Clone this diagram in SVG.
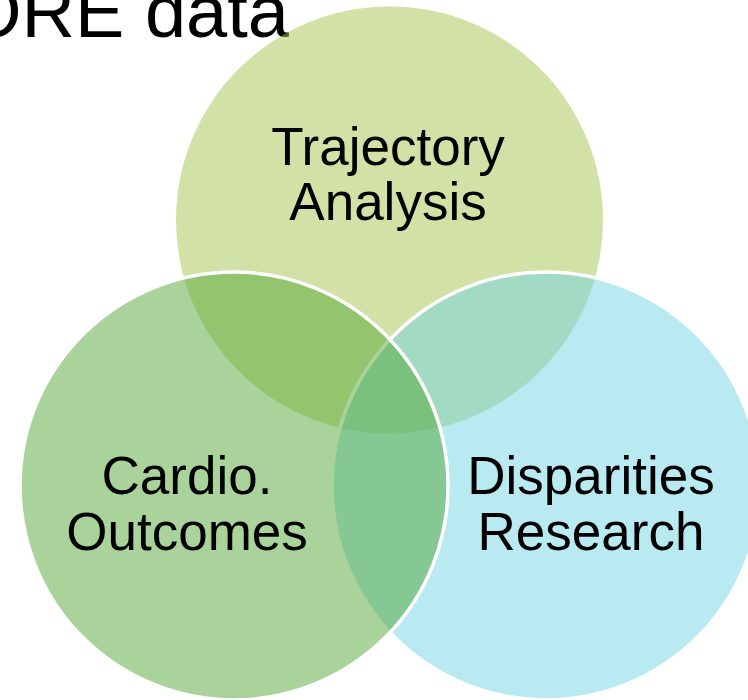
<svg xmlns="http://www.w3.org/2000/svg" width="748" height="700" viewBox="0 0 748 700">
  <style>
    .lbl { font-family: "Liberation Sans", Arial, sans-serif; font-size: 53px; fill: #000; text-anchor: middle; }
    .title { font-family: "Liberation Sans", Arial, sans-serif; font-size: 74px; fill: #000; }
    .c { fill-opacity: 0.5; }
    .edge { stroke: #fff; stroke-width: 3.5; }
  </style>
  <rect width="748" height="700" fill="#fff"/>
  <text class="title" x="-36" y="37">ORE data</text>
  <g id="node-trajectory">
    <circle class="c" cx="389.5" cy="220" r="213.5" fill="#A5C34B"/>
    <text class="lbl" x="388" y="165">Trajectory</text>
    <text class="lbl" x="388" y="220">Analysis</text>
  </g>
  <g id="node-disparities">
    <circle class="c edge" cx="546" cy="486" r="214" fill="#73D3E3"/>
    <text class="lbl" x="591" y="494">Disparities</text>
    <text class="lbl" x="591" y="550">Research</text>
  </g>
  <g id="node-cardio">
    <circle class="c edge" cx="234" cy="486" r="214" fill="#53A737"/>
    <text class="lbl" x="187" y="494">Cardio.</text>
    <text class="lbl" x="187" y="550">Outcomes</text>
  </g>
  <g id="connectors"></g>
</svg>
